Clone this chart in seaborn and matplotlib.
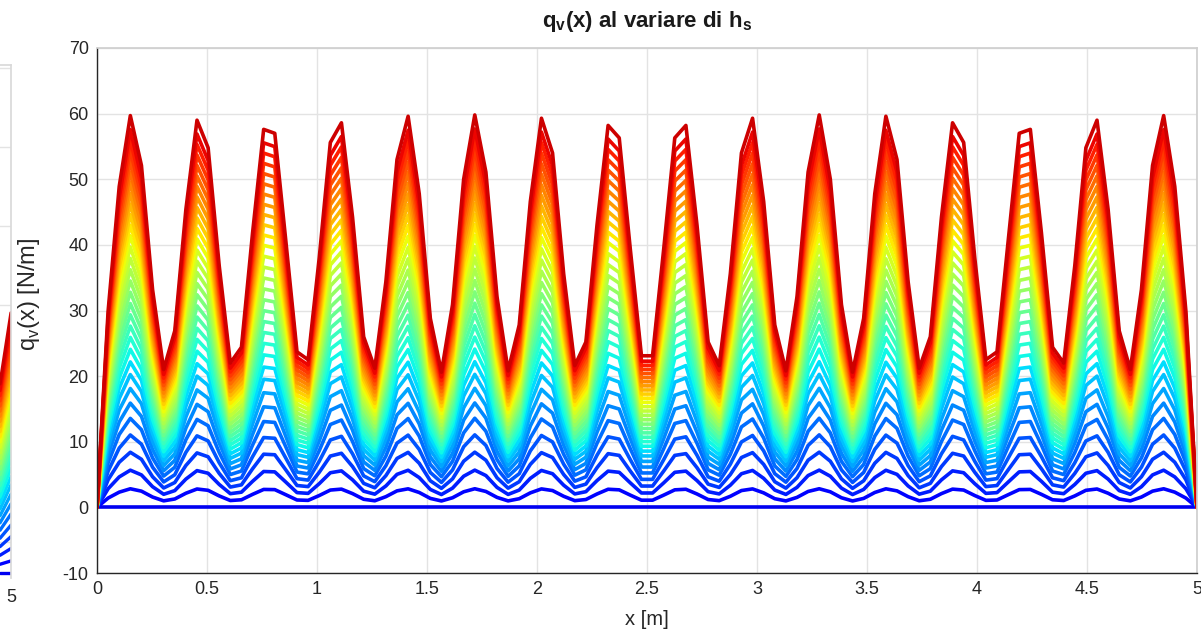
import numpy as np
import pandas as pd
import matplotlib
matplotlib.use("Agg")
import matplotlib.pyplot as plt
import seaborn as sns

# ---------------------- DATA ----------------------
# sample grid along the beam (100 points from 0 to 5 m)
x_pts = np.linspace(0, 5, 100)

# top curve (largest h_s) [N/m]
q_top = [0.0, 29.9, 48.9, 59.7, 52.1, 33.2, 21.0, 26.9, 45.4, 59.0,
         54.8, 36.8, 22.0, 24.4, 41.8, 57.6, 57.0, 40.5, 23.7, 22.5,
         38.0, 55.6, 58.6, 44.2, 26.0, 21.2, 34.4, 53.0, 59.6, 47.8,
         28.8, 20.6, 30.9, 50.0, 59.8, 51.1, 32.1, 20.8, 27.8, 46.6,
         59.3, 54.0, 35.6, 21.6, 25.2, 43.0, 58.2, 56.3, 39.3, 23.1,
         23.1, 39.3, 56.3, 58.2, 43.0, 25.2, 21.6, 35.6, 54.0, 59.3,
         46.6, 27.8, 20.8, 32.1, 51.1, 59.8, 50.0, 30.9, 20.6, 28.8,
         47.8, 59.6, 53.0, 34.4, 21.2, 26.0, 44.2, 58.6, 55.6, 38.0,
         22.5, 23.7, 40.5, 57.0, 57.6, 41.8, 24.4, 22.0, 36.8, 54.8,
         59.0, 45.4, 26.9, 21.0, 33.2, 52.1, 59.7, 48.9, 29.9, 0.0]

# peak height of each curve at the x~0.45 m peak (one curve per h_s)
peak_levels = [0, 2.8, 5.6, 8.3, 10.9, 13.4, 15.7, 17.9, 20.0, 21.9,
               23.8, 25.6, 27.3, 29.0, 30.7, 32.4, 34.1, 35.8, 37.5, 39.2,
               40.9, 42.5, 44.1, 45.7, 47.3, 48.9, 50.5, 52.1, 53.7, 55.3,
               56.9, 59.0]

# neighbouring (cropped) subplot on the left: end of its curves
left_x = [4.91, 5.0]
left_base = -4.0
left_start_top = 20.0
left_end_top = 29.0

x_ticks = [0, 0.5, 1, 1.5, 2, 2.5, 3, 3.5, 4, 4.5, 5]
x_ticklabels = ["0", "0.5", "1", "1.5", "2", "2.5", "3", "3.5", "4", "4.5", "5"]
y_ticks = [-10, 0, 10, 20, 30, 40, 50, 60, 70]

# ---------------------- BUILD TABLES ----------------------
q_top = np.array(q_top)
ref = peak_levels[-1]
rows = []
for k, lev in enumerate(peak_levels):
    for xv, qv in zip(x_pts, q_top * lev / ref):
        rows.append((k, xv, qv))
df = pd.DataFrame(rows, columns=["k", "x", "q"])

rows = []
for k, lev in enumerate(peak_levels):
    f = lev / ref
    rows.append((k, left_x[0], left_base + (left_start_top - left_base) * f))
    rows.append((k, left_x[1], left_base + (left_end_top - left_base) * f))
df_left = pd.DataFrame(rows, columns=["k", "x", "q"])

n = len(peak_levels)
jet = plt.get_cmap("jet")
cols = [jet(v) for v in np.linspace(0.1, 0.93, n)]
pal = dict(zip(range(n), cols))

# ---------------------- PLOT ----------------------
sns.set_theme(style="white")
plt.rcParams["font.family"] = ["Liberation Sans", "DejaVu Sans"]
plt.rcParams["mathtext.fontset"] = "custom"
plt.rcParams["mathtext.rm"] = "Liberation Sans"
plt.rcParams["mathtext.bf"] = "Liberation Sans:bold"
plt.rcParams["axes.unicode_minus"] = False

fig = plt.figure(figsize=(12.01, 6.38), dpi=100)
W, H = 1201, 638

# cropped left subplot (only its right edge is in the picture)
ax0 = fig.add_axes([-0.5, (638 - 578) / H, 0.5 + 11 / W, (578 - 65) / H])
sns.lineplot(data=df_left, x="x", y="q", hue="k", palette=pal, units="k",
             estimator=None, sort=False, legend=False, lw=2.4, ax=ax0)
ax0.set_xlim(0, 5)
ax0.set_ylim(-4.6, 60.4)
ax0.set_xticks([5])
ax0.set_yticks([0, 10, 20, 30, 40, 50, 60])
ax0.set_yticklabels([])
ax0.tick_params(labelsize=13, length=0, colors="#262626", pad=8)
ax0.grid(True, axis="y", color="#e3e3e3", lw=1)
for s in ax0.spines.values():
    s.set_color("#d9d9d9")
ax0.spines["bottom"].set_visible(False)
ax0.set_xlabel("")
ax0.set_ylabel("")

# main axes
ax = fig.add_axes([97 / W, (638 - 573) / H, 1100 / W, 525 / H])
sns.lineplot(data=df, x="x", y="q", hue="k", palette=pal, units="k",
             estimator=None, sort=False, legend=False, lw=2.6, ax=ax)
ax.set_xlim(0, 5)
ax.set_ylim(-10, 70)
ax.set_xticks(x_ticks)
ax.set_xticklabels(x_ticklabels)
ax.set_yticks(y_ticks)
ax.grid(True, color="#e3e3e3", lw=1)
ax.set_axisbelow(True)
ax.tick_params(direction="in", length=6, width=1, labelsize=13,
               colors="#262626", pad=6)
for side in ["left", "bottom"]:
    ax.spines[side].set_color("#262626")
    ax.spines[side].set_linewidth(1)
for side in ["top", "right"]:
    ax.spines[side].set_color("#cfcfcf")

ax.set_title(r"q$_\mathbf{v}$(x) al variare di h$_\mathbf{s}$",
             fontsize=16, fontweight="bold", pad=15, color="#1a1a1a")
ax.set_xlabel("x [m]", fontsize=14.5, color="#262626")
ax.xaxis.set_label_coords(0.5, -0.07)
ax.set_ylabel(r"q$_\mathrm{v}$(x) [N/m]", fontsize=17, color="#262626")
ax.yaxis.set_label_coords(-0.05, 0.53)

fig.savefig("out.png", dpi=100)
